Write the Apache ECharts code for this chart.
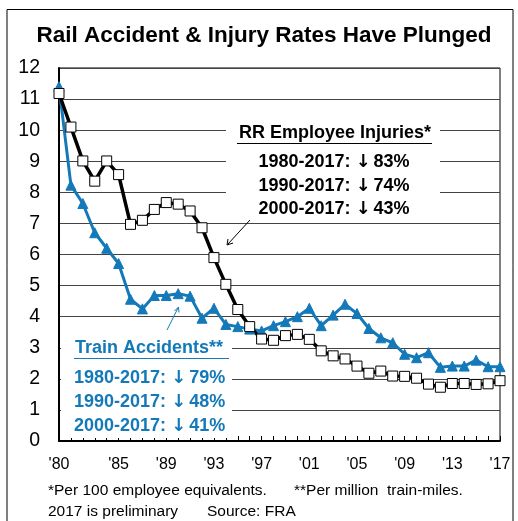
<!DOCTYPE html>
<html>
<head>
<meta charset="utf-8">
<script src="https://cdn.jsdelivr.net/npm/echarts@6/dist/echarts.min.js"></script>
<style>
  html, body { margin: 0; padding: 0; background: #fff; }
  #chart { width: 518px; height: 521px; }
</style>
</head>
<body>
<div id="chart"></div>
<script>
// years on the x axis
const years = ["'80", "'81", "'82", "'83", "'84", "'85", "'86", "'87", "'88", "'89",
  "'90", "'91", "'92", "'93", "'94", "'95", "'96", "'97", "'98", "'99",
  "'00", "'01", "'02", "'03", "'04", "'05", "'06", "'07", "'08", "'09",
  "'10", "'11", "'12", "'13", "'14", "'15", "'16", "'17"]
// only these labels are shown under the axis
const shownLabels = ["'80", "'85", "'89", "'93", "'97", "'01", "'05", "'09", "'13", "'17"]

// RR employee injuries, per 100 employee equivalents
const employeeInjuries = [11.18, 10.1, 9.01, 8.36, 9.01, 8.57, 6.97, 7.1, 7.45, 7.67,
  7.62, 7.4, 6.86, 5.9, 5.04, 4.23, 3.68, 3.28, 3.24, 3.39,
  3.43, 3.27, 2.9, 2.74, 2.64, 2.41, 2.18, 2.25, 2.09, 2.08,
  2.02, 1.83, 1.73, 1.85, 1.85, 1.82, 1.84, 1.94]

// train accidents, per million train-miles
const trainAccidents = [11.4, 8.23, 7.64, 6.7, 6.2, 5.71, 4.56, 4.25, 4.68, 4.68,
  4.74, 4.66, 3.95, 4.27, 3.75, 3.68, 3.6, 3.54, 3.71, 3.84,
  4.0, 4.27, 3.71, 4.05, 4.4, 4.1, 3.62, 3.32, 3.16, 2.79,
  2.68, 2.84, 2.37, 2.41, 2.41, 2.6, 2.39, 2.39]

const injuryNotes = [['1980-2017: ', '83%'], ['1990-2017: ', '74%'], ['2000-2017: ', '43%']]
const accidentNotes = [['1980-2017: ', '79%'], ['1990-2017: ', '48%'], ['2000-2017: ', '41%']]

const blue = '#1479b8'
const fontFamily = '"Liberation Sans", Arial, sans-serif'

const chart = echarts.init(document.getElementById('chart'))

// 注释文字
const noteText = (text, x, y, color, align) => ({
  type: 'text',
  x: x,
  y: y,
  z: 60,
  style: {
    text: text,
    fill: color,
    fontSize: 18,
    fontWeight: 'bold',
    fontFamily: fontFamily,
    textAlign: align || 'left',
    textVerticalAlign: 'middle',
    rich: {
      a: { fontFamily: '"DejaVu Sans"', fontWeight: 'bold', fontSize: 18, fill: color, padding: [0, 3, 0, 0] }
    }
  }
})
const pctText = (pair) => pair[0] + '{a|↓}' + pair[1]

const plainText = (text, x, y) => ({
  type: 'text',
  x: x,
  y: y,
  style: {
    text: text,
    fill: '#000',
    fontSize: 15.5,
    fontFamily: fontFamily,
    textVerticalAlign: 'middle'
  }
})

// white boxes behind the notes, they hide the grid lines there
const noteBox = (x, y, w, h) => ({
  type: 'rect',
  z: 50,
  silent: true,
  shape: { x: x, y: y, width: w, height: h },
  style: { fill: '#fff', stroke: 'none' }
})

const graphics = [
  {
    type: 'rect',
    shape: { x: 7, y: 9.5, width: 506, height: 530 },
    style: { fill: 'none', stroke: '#000', lineWidth: 1 },
    silent: true
  },
  {
    type: 'text',
    x: 264,
    y: 36,
    style: {
      text: 'Rail Accident & Injury Rates Have Plunged',
      fill: '#000',
      fontSize: 22.5,
      fontWeight: 'bold',
      fontFamily: fontFamily,
      textAlign: 'center',
      textVerticalAlign: 'middle'
    }
  },
  noteBox(226, 116, 214, 102),
  noteBox(61, 334, 171, 104),
  noteText('RR Employee Injuries*', 335, 133, '#000', 'center'),
  { type: 'line', z: 60, shape: { x1: 237, y1: 143.5, x2: 432, y2: 143.5 }, style: { stroke: '#000', lineWidth: 1.2 } },
  noteText(pctText(injuryNotes[0]), 334, 162, '#000', 'center'),
  noteText(pctText(injuryNotes[1]), 334, 186, '#000', 'center'),
  noteText(pctText(injuryNotes[2]), 334, 209, '#000', 'center'),
  // black arrow
  { type: 'line', z: 60, shape: { x1: 250, y1: 220, x2: 228, y2: 244 }, style: { stroke: '#000', lineWidth: 1 } },
  { type: 'polyline', z: 60, shape: { points: [[228, 239], [227, 245], [233, 243]] }, style: { stroke: '#000', fill: 'none', lineWidth: 1 } },
  noteText('Train Accidents**', 75, 348, blue, 'left'),
  { type: 'line', z: 60, shape: { x1: 74, y1: 358.5, x2: 229, y2: 358.5 }, style: { stroke: blue, lineWidth: 1.2 } },
  noteText(pctText(accidentNotes[0]), 74, 378, blue, 'left'),
  noteText(pctText(accidentNotes[1]), 74, 402, blue, 'left'),
  noteText(pctText(accidentNotes[2]), 74, 426, blue, 'left'),
  // blue arrow
  { type: 'line', z: 60, shape: { x1: 167, y1: 330, x2: 178, y2: 308 }, style: { stroke: blue, lineWidth: 1 } },
  { type: 'polyline', z: 60, shape: { points: [[174.5, 311], [178.5, 307], [179, 312.5]] }, style: { stroke: blue, fill: 'none', lineWidth: 1 } },
  plainText('*Per 100 employee equivalents.', 48, 491),
  plainText('**Per million  train-miles.', 294, 491),
  plainText('2017 is preliminary', 48, 512),
  plainText('Source: FRA', 207, 512)
]

const option = {
  animation: false,
  backgroundColor: '#fff',
  grid: {
    left: 59,
    right: 18,
    top: 68,
    bottom: 80,
    show: true,
    borderColor: '#000',
    borderWidth: 1
  },
  xAxis: {
    type: 'category',
    data: years,
    boundaryGap: false,
    axisLine: { show: true, lineStyle: { color: '#000', width: 2 } },
    axisTick: { show: true, inside: true, interval: 0, length: 5, lineStyle: { color: '#000' } },
    axisLabel: {
      interval: 0,
      formatter: (v) => (shownLabels.includes(v) ? v : ''),
      color: '#000',
      fontSize: 16,
      fontFamily: fontFamily,
      margin: 16
    },
    splitLine: { show: false }
  },
  yAxis: {
    type: 'value',
    min: 0,
    max: 12,
    interval: 1,
    axisLine: { show: true, lineStyle: { color: '#000', width: 2 } },
    axisTick: { show: false },
    axisLabel: {
      color: '#000',
      fontSize: 19.5,
      fontFamily: fontFamily,
      margin: 19
    },
    splitLine: { show: true, lineStyle: { color: '#444', width: 1 } }
  },
  series: [
    {
      name: 'Train Accidents',
      type: 'line',
      data: trainAccidents,
      symbol: 'triangle',
      symbolSize: 10,
      lineStyle: { color: blue, width: 3 },
      itemStyle: { color: blue, borderColor: blue, borderWidth: 1 }
    },
    {
      name: 'RR Employee Injuries',
      type: 'line',
      data: employeeInjuries,
      symbol: 'rect',
      symbolSize: 10,
      lineStyle: { color: '#000', width: 3.5 },
      itemStyle: { color: '#fff', borderColor: '#000', borderWidth: 1 }
    }
  ],
  graphic: graphics
}

chart.setOption(option)
</script>
</body>
</html>
